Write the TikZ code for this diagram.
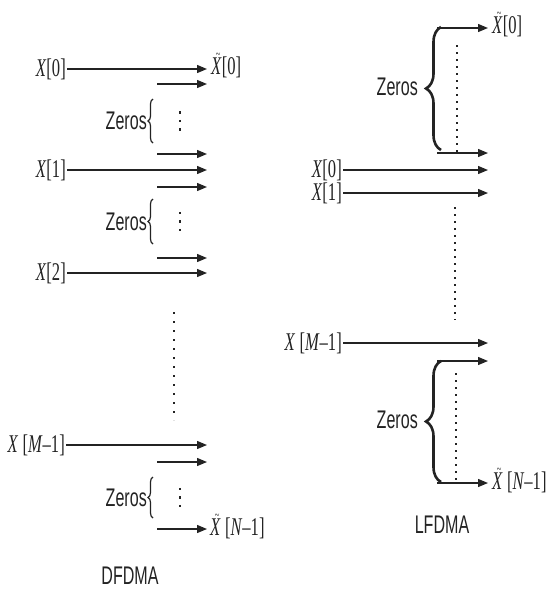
\documentclass[tikz,border=0pt]{standalone}
\usepackage{fontspec}
\setmainfont{Liberation Serif}[FakeStretch=0.65]
\newfontfamily\labfont{Liberation Sans}[FakeStretch=0.63]
\usepackage{tikz}
\usetikzlibrary{arrows.meta, positioning, calc, decorations.pathreplacing}
\definecolor{inkgray}{RGB}{35,35,35}
\newcommand{\tilX}{{\ooalign{\textit{X}\cr\hidewidth\kern0.12em\raisebox{0.6em}{\fontsize{13}{13}\selectfont\char"7E}\hidewidth\cr}}}

\begin{document}
\begin{tikzpicture}[x=1pt, y=-1pt,
    sig/.style={draw=inkgray, line width=1.3pt, -{Triangle[length=10pt,width=8pt]}},
    sym/.style={inner sep=1pt, text=inkgray, font=\fontsize{25.5}{27}\selectfont},
    zlab/.style={inner sep=1pt, text=inkgray, font=\labfont\fontsize{25.5}{27}\selectfont},
    brc/.style={draw=inkgray, line width=1.2pt, decorate, decoration={brace, amplitude=5pt}},
    bigbrc/.style={draw=inkgray, line width=2.6pt, decorate, decoration={brace, amplitude=15pt}},
    dotline/.style={draw=inkgray, line width=2pt, dash pattern=on 2pt off 7pt},
    fewdots/.style={draw=inkgray, line width=2pt, dash pattern=on 2.5pt off 6pt}]
  \useasboundingbox (0,0) rectangle (546,592);

  % DFDMA (left)
  \node[sym, anchor=east] (dx0) at (67,69) {\textit{X}[0]};
  \coordinate (dx0e) at (207,69);
  \draw[sig] (dx0.east) -- (dx0e);
  \node[sym, anchor=west] (dy0) at (210,67) {\tilX[0]};
  \node[sym, anchor=east] (dx1) at (67,170) {\textit{X}[1]};
  \coordinate (dx1e) at (207,170);
  \draw[sig] (dx1.east) -- (dx1e);
  \node[sym, anchor=east] (dx2) at (67,273) {\textit{X}[2]};
  \coordinate (dx2e) at (207,273);
  \draw[sig] (dx2.east) -- (dx2e);
  \node[sym, anchor=east] (dxm) at (66,445) {\textit{X}\,[\textit{M}–1]};
  \coordinate (dxme) at (207,445);
  \draw[sig] (dxm.east) -- (dxme);
  \foreach \y/\n in {84/a, 154/b, 187/c, 258/d, 462/e, 529/f} {
    \coordinate (dzs\n) at (157,\y);
    \coordinate (dze\n) at (207,\y);
    \draw[sig] (dzs\n) -- (dze\n);
  }
  \node[sym, anchor=west] (dyn) at (209,528) {\tilX\,[\textit{N}–1]};
  \foreach \t/\b/\n in {99/143/a, 199/244/b, 477/518/c} {
    \draw[brc] (153,\b) -- (153,\t);
    \node[zlab, anchor=east] (dzl\n) at (148,{(\t+\b)/2}) {Zeros};
    \draw[fewdots] (180,{(\t+\b)/2-9.75}) -- (180,{(\t+\b)/2+9.75});
  }
  \draw[dotline] (174,312) -- (174,420);
  \node[zlab] (dname) at (130,576) {DFDMA};

  % LFDMA (right)
  \node[sym, anchor=east] (lx0) at (343,170) {\textit{X}[0]};
  \coordinate (lx0e) at (488,170);
  \draw[sig] (lx0.east) -- (lx0e);
  \node[sym, anchor=east] (lx1) at (343,193) {\textit{X}[1]};
  \coordinate (lx1e) at (488,193);
  \draw[sig] (lx1.east) -- (lx1e);
  \node[sym, anchor=east] (lxm) at (343,343) {\textit{X}\,[\textit{M}–1]};
  \coordinate (lxme) at (488,343);
  \draw[sig] (lxm.east) -- (lxme);
  \foreach \y/\n in {28/a, 153/b, 361/c, 483/d} {
    \coordinate (lzs\n) at (437,\y);
    \coordinate (lze\n) at (488,\y);
    \draw[sig] (lzs\n) -- (lze\n);
  }
  \node[sym, anchor=west] (ly0) at (491,26) {\tilX[0]};
  \node[sym, anchor=west] (lyn) at (491,482) {\tilX\,[\textit{N}–1]};
  \foreach \t/\b/\n in {27/150/a, 361/482/b} {
    \draw[bigbrc] (441,\b) -- (441,\t);
    \node[zlab, anchor=east] (lzl\n) at (419,{(\t+\b)/2-2}) {Zeros};
  }
  \draw[dotline, line width=1.8pt, dash pattern=on 1.8pt off 5.2pt] (457,45) -- (457,153);
  \draw[dotline, line width=1.8pt, dash pattern=on 1.8pt off 5.2pt] (455,207) -- (455,320);
  \draw[dotline, line width=1.8pt, dash pattern=on 1.8pt off 5.2pt] (456,373) -- (456,483);
  \node[zlab] (lname) at (442,525) {LFDMA};
\end{tikzpicture}
\end{document}
